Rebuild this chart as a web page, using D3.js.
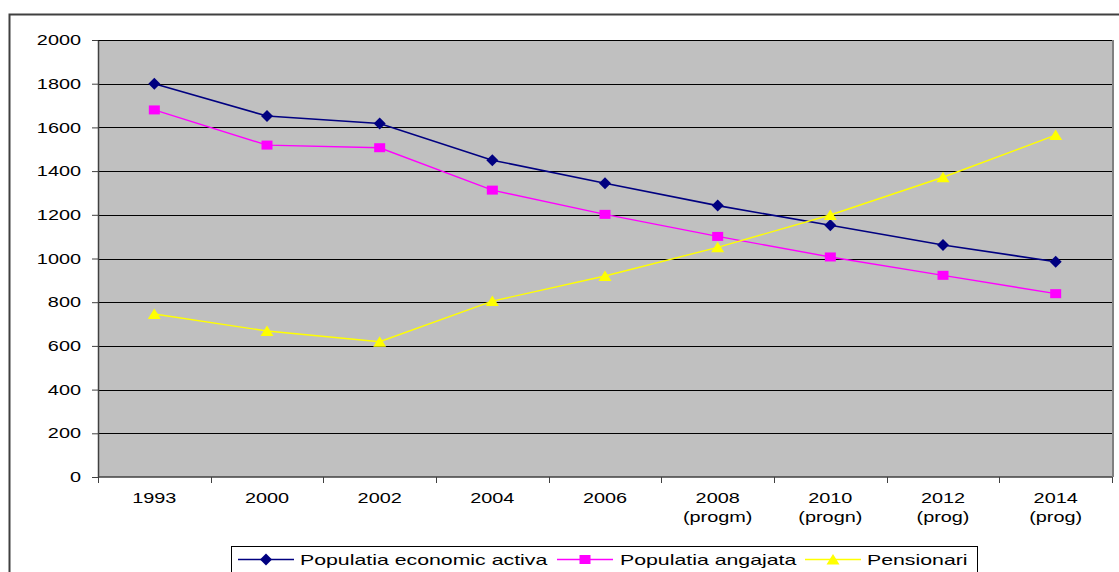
<!DOCTYPE html>
<html>
<head>
<meta charset="utf-8">
<script src="https://cdn.jsdelivr.net/npm/d3@7"></script>
<style>
  html, body { margin: 0; padding: 0; background: #fff; }
  svg { display: block; font-family: "Liberation Sans", Arial, sans-serif; }
</style>
</head>
<body>
<svg id="chart" width="1119" height="572"></svg>
<script>
// Category labels (second line shown under the year)
const years = ["1993", "2000", "2002", "2004", "2006", "2008", "2010", "2012", "2014"];
const yearNotes = ["", "", "", "", "", "(progm)", "(progn)", "(prog)", "(prog)"];

// Series values (thousand persons)
const economicActive = [1800, 1652, 1618, 1450, 1344, 1242, 1152, 1062, 985];
const employed = [1680, 1519, 1507, 1313, 1202, 1101, 1007, 923, 839];
const pensioners = [746, 668, 619, 805, 920, 1051, 1199, 1372, 1565];

const yTicks = [0, 200, 400, 600, 800, 1000, 1200, 1400, 1600, 1800, 2000];

const seriesNames = ["Populatia economic activa", "Populatia angajata", "Pensionari"];
const seriesColors = ["#000080", "#FF00FF", "#FFFF00"];
const seriesShapes = ["diamond", "square", "triangle"];

const series = [economicActive, employed, pensioners].map((vals, i) => ({
  name: seriesNames[i], color: seriesColors[i], shape: seriesShapes[i],
  values: vals.map((v, j) => ({ cat: years[j], v }))
}));

// Text in this chart is drawn horizontally widened
const FONT = 14.5;
const STRETCH = 1.37;
const LEGEND_STRETCH = 1.42;

const svg = d3.select("#chart");
const plot = { left: 98, top: 40, right: 1112, bottom: 477 };

// Outer chart frame
svg.append("path")
  .attr("d", "M9.5,572 V14.5 H1119")
  .attr("fill", "none").attr("stroke", "#404040").attr("stroke-width", 2);

const x = d3.scaleBand().domain(years).range([plot.left, plot.right]);
const y = d3.scaleLinear().domain([0, 2000]).range([plot.bottom, plot.top]);

// Plot background
svg.append("rect")
  .attr("x", plot.left).attr("y", plot.top)
  .attr("width", plot.right - plot.left).attr("height", plot.bottom - plot.top)
  .attr("fill", "#C0C0C0");

// Horizontal gridlines
svg.append("g").selectAll("line").data(yTicks.filter(t => t > 0)).join("line")
  .attr("x1", plot.left).attr("x2", plot.right)
  .attr("y1", d => Math.round(y(d)) + 0.5).attr("y2", d => Math.round(y(d)) + 0.5)
  .attr("stroke", "#000").attr("stroke-width", 1);

// Right border of plot area
svg.append("line")
  .attr("x1", plot.right + 1).attr("x2", plot.right + 1)
  .attr("y1", plot.top).attr("y2", plot.bottom)
  .attr("stroke", "#808080").attr("stroke-width", 2);

// Y axis
const yAxis = svg.append("g")
  .attr("transform", `translate(${plot.left},0)`)
  .call(d3.axisLeft(y).tickValues(yTicks).tickFormat(d3.format("d"))
    .tickSize(6).tickPadding(11).tickSizeOuter(0));
yAxis.select(".domain").attr("stroke", "#404040").attr("stroke-width", 1.5);
yAxis.selectAll(".tick line").attr("stroke", "#404040");
yAxis.selectAll(".tick text")
  .attr("font-size", FONT).attr("fill", "#000")
  .attr("font-family", "Liberation Sans, Arial, sans-serif")
  .attr("x", 0)
  .attr("transform", `translate(-17,0) scale(${STRETCH},1)`);

// X axis: ticks at category boundaries
const xAxisG = svg.append("g").attr("transform", `translate(0,${plot.bottom})`);
xAxisG.append("line")
  .attr("x1", plot.left).attr("x2", plot.right)
  .attr("y1", 0).attr("y2", 0)
  .attr("stroke", "#404040").attr("stroke-width", 1.5);
const boundaries = years.map(c => x(c)).concat([plot.right]);
xAxisG.selectAll("line.tick").data(boundaries).join("line")
  .attr("class", "tick")
  .attr("x1", d => Math.round(d) + 0.5).attr("x2", d => Math.round(d) + 0.5)
  .attr("y1", 0).attr("y2", 6)
  .attr("stroke", "#404040");
const xLabels = xAxisG.selectAll("text").data(years).join("text")
  .attr("transform", d => `translate(${x(d) + x.bandwidth() / 2},0) scale(${STRETCH},1)`)
  .attr("x", 0).attr("y", 26)
  .attr("text-anchor", "middle")
  .attr("font-size", FONT).attr("fill", "#000");
xLabels.append("tspan").text(d => d);
xLabels.append("tspan")
  .attr("x", 0).attr("dy", 19.5)
  .text((d, i) => yearNotes[i]);

// Marker drawing
function marker(sel, shape, color) {
  if (shape === "diamond") {
    sel.append("path").attr("d", "M0,-6 L6,0 L0,6 L-6,0 Z").attr("fill", color);
  } else if (shape === "square") {
    sel.append("rect").attr("x", -5.5).attr("y", -4.5).attr("width", 11).attr("height", 9).attr("fill", color);
  } else {
    sel.append("path").attr("d", "M0,-5.5 L6.5,5 L-6.5,5 Z").attr("fill", color);
  }
}

const line = d3.line()
  .x(d => x(d.cat) + x.bandwidth() / 2)
  .y(d => y(d.v));

series.forEach(s => {
  svg.append("path")
    .datum(s.values)
    .attr("d", line)
    .attr("fill", "none")
    .attr("stroke", s.color)
    .attr("stroke-width", s.shape === "diamond" ? 1.6 : 1.4);
  svg.append("g").selectAll("g").data(s.values).join("g")
    .attr("transform", d => `translate(${x(d.cat) + x.bandwidth() / 2},${y(d.v)})`)
    .each(function () { marker(d3.select(this), s.shape, s.color); });
});

// Legend
const legend = svg.append("g");
legend.append("rect")
  .attr("x", 231.5).attr("y", 546.5).attr("width", 746).attr("height", 40)
  .attr("fill", "#fff").attr("stroke", "#000").attr("stroke-width", 1);
const legendItems = [
  { lx: 238, tx: 300 },
  { lx: 557, tx: 620 },
  { lx: 805, tx: 867 }
];
series.forEach((s, i) => {
  const it = legendItems[i];
  const g = legend.append("g");
  g.append("line")
    .attr("x1", it.lx).attr("x2", it.lx + 56)
    .attr("y1", 559.5).attr("y2", 559.5)
    .attr("stroke", s.color).attr("stroke-width", 1.5);
  const m = g.append("g").attr("transform", `translate(${it.lx + 28},559.5)`);
  marker(m, s.shape, s.color);
  g.append("text")
    .attr("transform", `translate(${it.tx},565) scale(${LEGEND_STRETCH},1)`)
    .attr("font-size", FONT + 0.5).attr("fill", "#000")
    .text(s.name);
});
</script>
</body>
</html>
